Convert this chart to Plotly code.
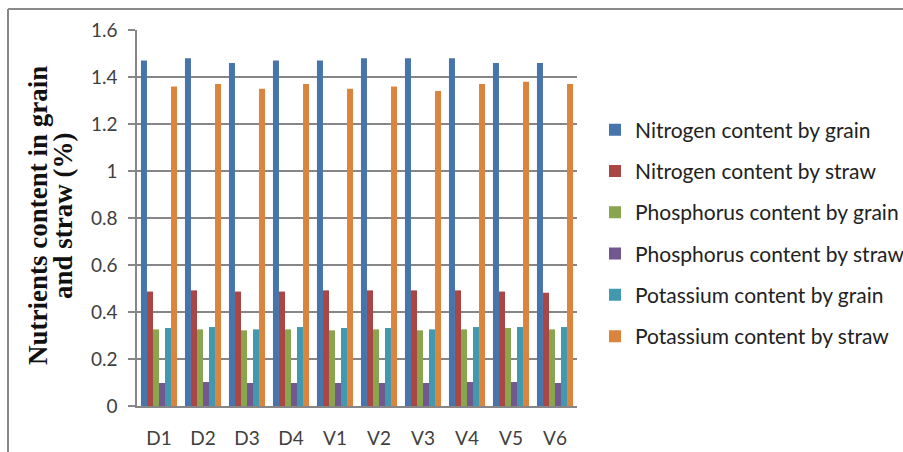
import plotly.graph_objects as go

# Treatments on the category axis
treatments = ["D1", "D2", "D3", "D4", "V1", "V2", "V3", "V4", "V5", "V6"]

# Nutrient contents (%)
n_grain = [1.47, 1.48, 1.46, 1.47, 1.47, 1.48, 1.48, 1.48, 1.46, 1.46]
n_straw = [0.487, 0.492, 0.487, 0.487, 0.492, 0.492, 0.492, 0.492, 0.487, 0.482]
p_grain = [0.326, 0.326, 0.322, 0.326, 0.322, 0.326, 0.322, 0.326, 0.332, 0.326]
p_straw = [0.098, 0.102, 0.098, 0.098, 0.098, 0.098, 0.098, 0.102, 0.102, 0.098]
k_grain = [0.332, 0.336, 0.326, 0.336, 0.332, 0.332, 0.326, 0.336, 0.336, 0.336]
k_straw = [1.36, 1.37, 1.35, 1.37, 1.35, 1.36, 1.34, 1.37, 1.38, 1.37]

y_ticks = [0, 0.2, 0.4, 0.6, 0.8, 1.0, 1.2, 1.4, 1.6]
y_tick_text = ["0", "0.2", "0.4", "0.6", "0.8", "1", "1.2", "1.4", "1.6"]

series = [
    ("Nitrogen content by grain", n_grain, "#4674AB"),
    ("Nitrogen content by straw", n_straw, "#AA4643"),
    ("Phosphorus content by grain", p_grain, "#89A54E"),
    ("Phosphorus content by straw", p_straw, "#71588F"),
    ("Potassium content by grain", k_grain, "#4198AF"),
    ("Potassium content by straw", k_straw, "#DB843D"),
]

title_lines = ["Nutrients content in grain", "and straw (%)"]

W, H = 903, 452
L, R, T, B = 137, 326, 30, 46
pw, ph = W - L - R, H - T - B

def px_x(px):
    return (px - L) / pw

def px_y(py):
    return (H - B - py) / ph

TICK_FONT = "Lato, Carlito, Calibri, sans-serif"
SERIF = "Liberation Serif, Times New Roman, serif"
GRID = "#868686"

fig = go.Figure()
for i, (name, vals, col) in enumerate(series):
    fig.add_trace(go.Bar(
        x=treatments, y=vals, name=name,
        marker=dict(color=col, line=dict(width=0)),
        legendgroup=f"g{i}",
    ))

# two-line rotated axis title, one annotation per line
title_annots = [
    dict(text=f"<b>{line}</b>", xref="paper", yref="paper",
         x=px_x(cx), y=px_y(216), xanchor="center", yanchor="middle",
         showarrow=False, textangle=-90,
         font=dict(family=SERIF, size=27, color="#111111"))
    for line, cx in zip(title_lines, [38, 63])
]

fig.update_layout(
    width=W, height=H,
    margin=dict(l=L, r=R, t=T, b=B, pad=0, autoexpand=False),
    paper_bgcolor="white", plot_bgcolor="white",
    barmode="group", bargap=0.18, bargroupgap=0,
    showlegend=True,
    legend=dict(
        x=px_x(595), xanchor="left",
        y=px_y(233), yanchor="middle",
        font=dict(family=TICK_FONT, size=21, color="#222222"),
        tracegroupgap=11, bgcolor="rgba(0,0,0,0)",
    ),
    xaxis=dict(
        automargin=False,
        showline=True, linecolor=GRID, linewidth=1.5,
        ticks="", showgrid=False,
        tickfont=dict(family=TICK_FONT, size=19, color="#404040"),
        ticklabelstandoff=14,
    ),
    yaxis=dict(
        automargin=False,
        range=[0, 1.6], tickvals=y_ticks, ticktext=y_tick_text,
        showline=True, linecolor=GRID, linewidth=1.5,
        ticks="outside", ticklen=7, tickcolor=GRID, tickwidth=1.5,
        showgrid=True, gridcolor=GRID, gridwidth=1.5,
        zeroline=False,
        tickfont=dict(family=TICK_FONT, size=19, color="#404040"),
        ticklabelstandoff=7,
    ),
    annotations=title_annots,
    shapes=[
        dict(type="line", xref="paper", yref="paper",
             x0=px_x(8), x1=px_x(8), y0=px_y(9), y1=px_y(H),
             line=dict(color="#111111", width=1)),
        dict(type="line", xref="paper", yref="paper",
             x0=px_x(8), x1=px_x(W), y0=px_y(9), y1=px_y(9),
             line=dict(color="#8a8a8a", width=2)),
    ],
)

fig.write_html("out.html")
